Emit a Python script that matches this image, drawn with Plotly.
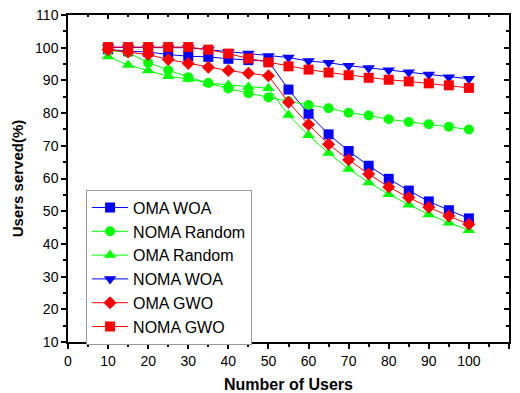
import plotly.graph_objects as go

users = [10, 15, 20, 25, 30, 35, 40, 45, 50, 55, 60, 65, 70, 75, 80, 85, 90, 95, 100]

oma_woa = [99.5, 98.9, 98.7, 97.9, 97.4, 97.2, 96.6, 96.2, 95.9, 87.2, 79.8, 73.5, 68.4, 63.9, 59.9, 56.3, 53.0, 50.3, 47.8]
noma_random = [99.2, 98.5, 95.4, 93.1, 91.0, 89.2, 87.5, 86.1, 84.8, 83.6, 82.5, 81.5, 80.1, 79.3, 78.1, 77.3, 76.6, 75.8, 75.0]
oma_random = [97.3, 94.7, 93.0, 91.3, 90.4, 89.2, 88.6, 88.0, 87.6, 79.4, 73.2, 67.8, 62.9, 58.8, 55.2, 52.0, 49.0, 46.5, 44.2]
noma_woa = [100.1, 100.0, 100.0, 100.0, 100.0, 99.4, 98.7, 98.2, 97.5, 97.0, 95.9, 95.4, 94.5, 93.8, 93.1, 92.5, 91.8, 91.0, 90.5]
oma_gwo = [99.4, 98.7, 97.9, 96.4, 95.2, 94.0, 93.0, 92.2, 91.4, 83.3, 76.5, 70.5, 65.7, 61.4, 57.4, 54.2, 51.2, 48.5, 46.0]
noma_gwo = [100.2, 100.2, 100.2, 100.2, 100.2, 99.4, 98.2, 96.7, 95.5, 94.3, 93.3, 92.4, 91.6, 90.8, 90.2, 89.7, 89.1, 88.5, 87.7]

series = [
    ("OMA WOA", oma_woa, "#0000FF", "square"),
    ("NOMA Random", noma_random, "#00FF00", "circle"),
    ("OMA Random", oma_random, "#00FF00", "triangle-up"),
    ("NOMA WOA", noma_woa, "#0000FF", "triangle-down"),
    ("OMA GWO", oma_gwo, "#FF0000", "diamond"),
    ("NOMA GWO", noma_gwo, "#FF0000", "square"),
]

fig = go.Figure()
for name, vals, col, sym in series:
    fig.add_trace(go.Scatter(
        x=users, y=vals, name=name, mode="lines+markers",
        line=dict(color=col, width=1),
        marker=dict(symbol=sym, size=10 if sym not in ("triangle-up", "triangle-down") else 11,
                    color=col, line=dict(width=0)),
    ))

# mirrored frame axes with inward ticks
fig.add_trace(go.Scatter(x=[], y=[], xaxis="x2", yaxis="y2", showlegend=False, hoverinfo="skip"))

font = "Liberation Sans, Arial, sans-serif"
axis_common = dict(showgrid=False, zeroline=False, showline=True, linecolor="black",
                   linewidth=1.5, tickcolor="black", tickwidth=1.5, automargin=False,
                   tickfont=dict(family=font, size=14, color="black"))

fig.update_layout(
    width=520, height=393,
    margin=dict(l=68, r=11, t=15, b=51),
    paper_bgcolor="white", plot_bgcolor="white",
    font=dict(family=font, color="black"),
    xaxis=dict(range=[0, 110], tickmode="linear", tick0=0, dtick=10, ticks="outside", ticklen=5,
               minor=dict(ticks="outside", ticklen=3, dtick=5, tickcolor="black", tickwidth=1.5),
               title=dict(text="<b>Number of Users</b>", font=dict(family=font, size=16), standoff=12),
               **axis_common),
    yaxis=dict(range=[10, 110], tickmode="linear", tick0=10, dtick=10, ticks="outside", ticklen=5,
               minor=dict(ticks="outside", ticklen=3, dtick=5, tickcolor="black", tickwidth=1.5),
               title=dict(text="<b>Users served(%)</b>", font=dict(family=font, size=15), standoff=8),
               **axis_common),
    xaxis2=dict(range=[0, 110], overlaying="x", side="top", anchor="y2", tickmode="linear", tick0=0, dtick=10,
                ticks="inside", ticklen=4, showticklabels=False,
                minor=dict(ticks="inside", ticklen=2.5, dtick=5, tickcolor="black", tickwidth=1.5),
                **axis_common),
    yaxis2=dict(range=[10, 110], overlaying="y", side="right", anchor="x2", tickmode="linear", tick0=10, dtick=10,
                ticks="inside", ticklen=5, showticklabels=False,
                minor=dict(ticks="inside", ticklen=3, dtick=5, tickcolor="black", tickwidth=1.5),
                **axis_common),
    legend=dict(x=0.041, y=0.466, xanchor="left", yanchor="top",
                bgcolor="white", bordercolor="#999999", borderwidth=1,
                font=dict(family=font, size=16, color="black"),
                tracegroupgap=0, itemwidth=36),
    showlegend=True,
)

fig.write_html("out.html")
